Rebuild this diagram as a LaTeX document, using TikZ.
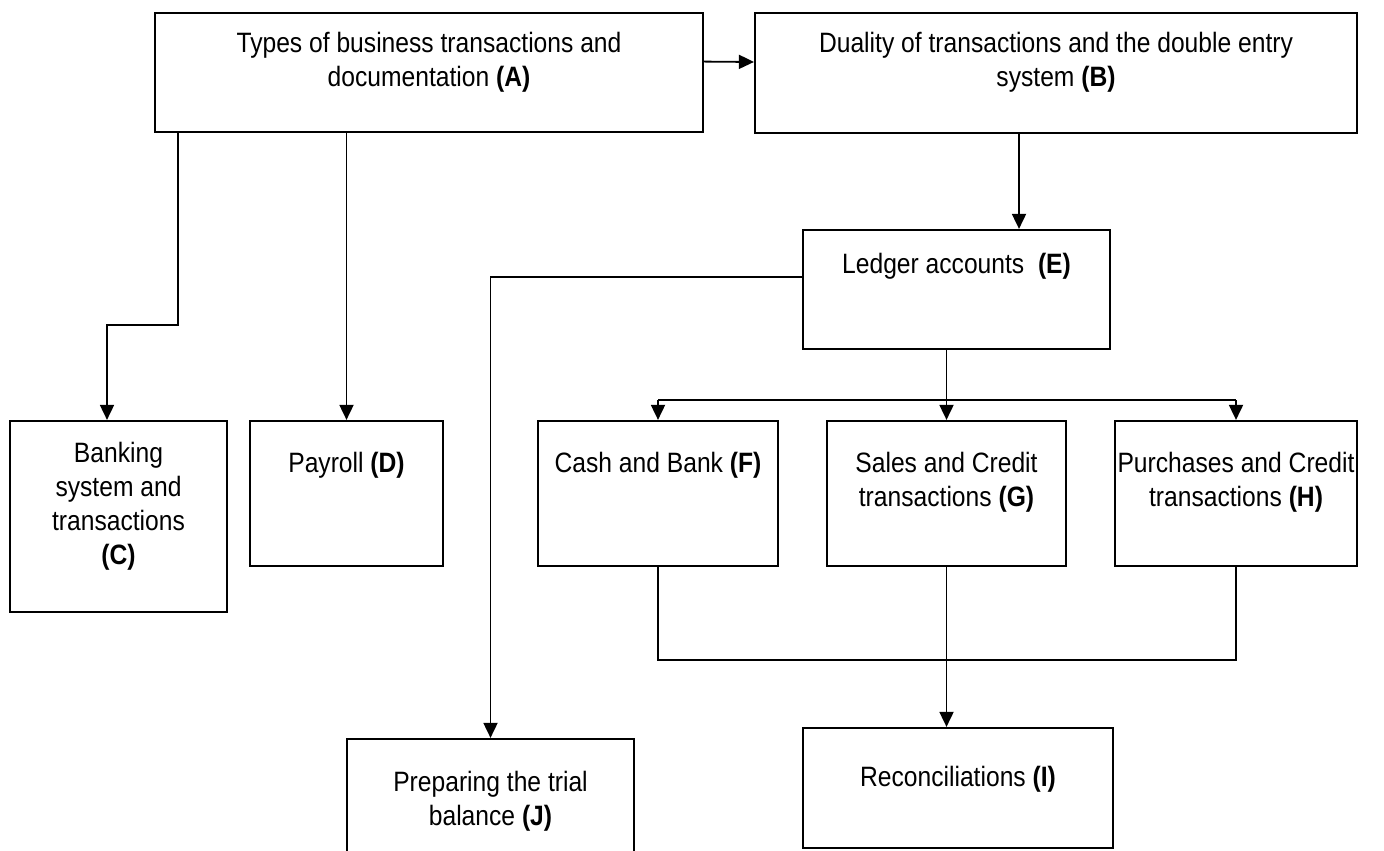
\documentclass[tikz,border=0pt]{standalone}
\usepackage{fontspec}
\setmainfont[FakeStretch=0.88]{Liberation Sans}
\usetikzlibrary{arrows.meta,calc,positioning,fit}
\tikzset{
    >={Triangle[length=7.5pt,width=7pt]},
    topicbox/.style={
        rectangle,
        draw=black, line width=1.1pt,
        inner sep=0pt
    },
    topictext/.style={
        align=center,
        inner sep=0pt,
        font={\fontsize{14pt}{17pt}\selectfont}
    },
    link/.style={draw, line width=0.9pt},
}

\begin{document}
\begin{tikzpicture}[x=0.5pt,y=-0.5pt]
\useasboundingbox (0,0) rectangle (1384,850);
\clip (0,0) rectangle (1384,850);
% boxes
\node[topicbox, fit={(155,13) (703,132)}] (A) {};
\node[topicbox, fit={(755,13) (1357,133)}] (B) {};
\node[topicbox, fit={(803,230) (1110,349)}] (E) {};
\node[topicbox, fit={(10,421) (227,612)}] (C) {};
\node[topicbox, fit={(250,421) (443,566)}] (D) {};
\node[topicbox, fit={(538,421) (778,566)}] (F) {};
\node[topicbox, fit={(827,421) (1066,566)}] (G) {};
\node[topicbox, fit={(1115,421) (1357,566)}] (H) {};
\node[topicbox, fit={(347,739) (634,880)}] (J) {};
\node[topicbox, fit={(803,728) (1113,848)}] (I) {};
% texts
\node[topictext, below=10pt of A.north] (At) {Types of business transactions and\\documentation \textbf{(A)}};
\node[topictext, below=10pt of B.north] (Bt) {Duality of transactions and the double entry\\system \textbf{(B)}};
\node[topictext, below=12pt of E.north] (Et) {Ledger accounts~~\textbf{(E)}};
\node[topictext, below=11pt of C.north] (Ct) {Banking\\system and\\transactions\\\textbf{(C)}};
\node[topictext, below=16pt of D.north] (Dt) {Payroll \textbf{(D)}};
\node[topictext, below=16pt of F.north] (Ft) {Cash and Bank \textbf{(F)}};
\node[topictext, below=16pt of G.north] (Gt) {Sales and Credit\\transactions \textbf{(G)}};
\node[topictext, below=16pt of H.north] (Ht) {Purchases and Credit\\transactions \textbf{(H)}};
\node[topictext, below=16.5pt of J.north] (Jt) {Preparing the trial\\balance \textbf{(J)}};
\node[topictext, below=19.5pt of I.north] (It) {Reconciliations \textbf{(I)}};
% helper points
\coordinate (bendC) at (107,325);
\coordinate (colB) at (1019,0);
\coordinate (split) at (946.5,400);
\coordinate (merge) at (946.5,660);
% connectors
\draw[link,->] ($(A.north east)!0.41!(A.south east)$) -- ($(B.north west)!0.41!(B.south west)$);
\draw[link,->] ($(A.south west)+(24,0)$) |- (bendC) -- (bendC |- C.north);
\draw[link,->] (A.south -| D.north) -- (D.north);
\draw[link,->] (B.south -| colB) -- (E.north -| colB);
\draw[link,->] ($(E.north west)!0.4!(E.south west)$) -| (J.north);
\draw[link] (E.south -| G.north) -- (split);
\draw[link] (split -| F.north) -- (split -| H.north);
\draw[link,->] (split -| F.north) -- (F.north);
\draw[link,->] (split) -- (G.north);
\draw[link,->] (split -| H.north) -- (H.north);
\draw[link] (F.south) |- (merge -| H.south) -- (H.south);
\draw[link,->] (G.south) -- (G.south |- I.north);
\end{tikzpicture}
\end{document}
